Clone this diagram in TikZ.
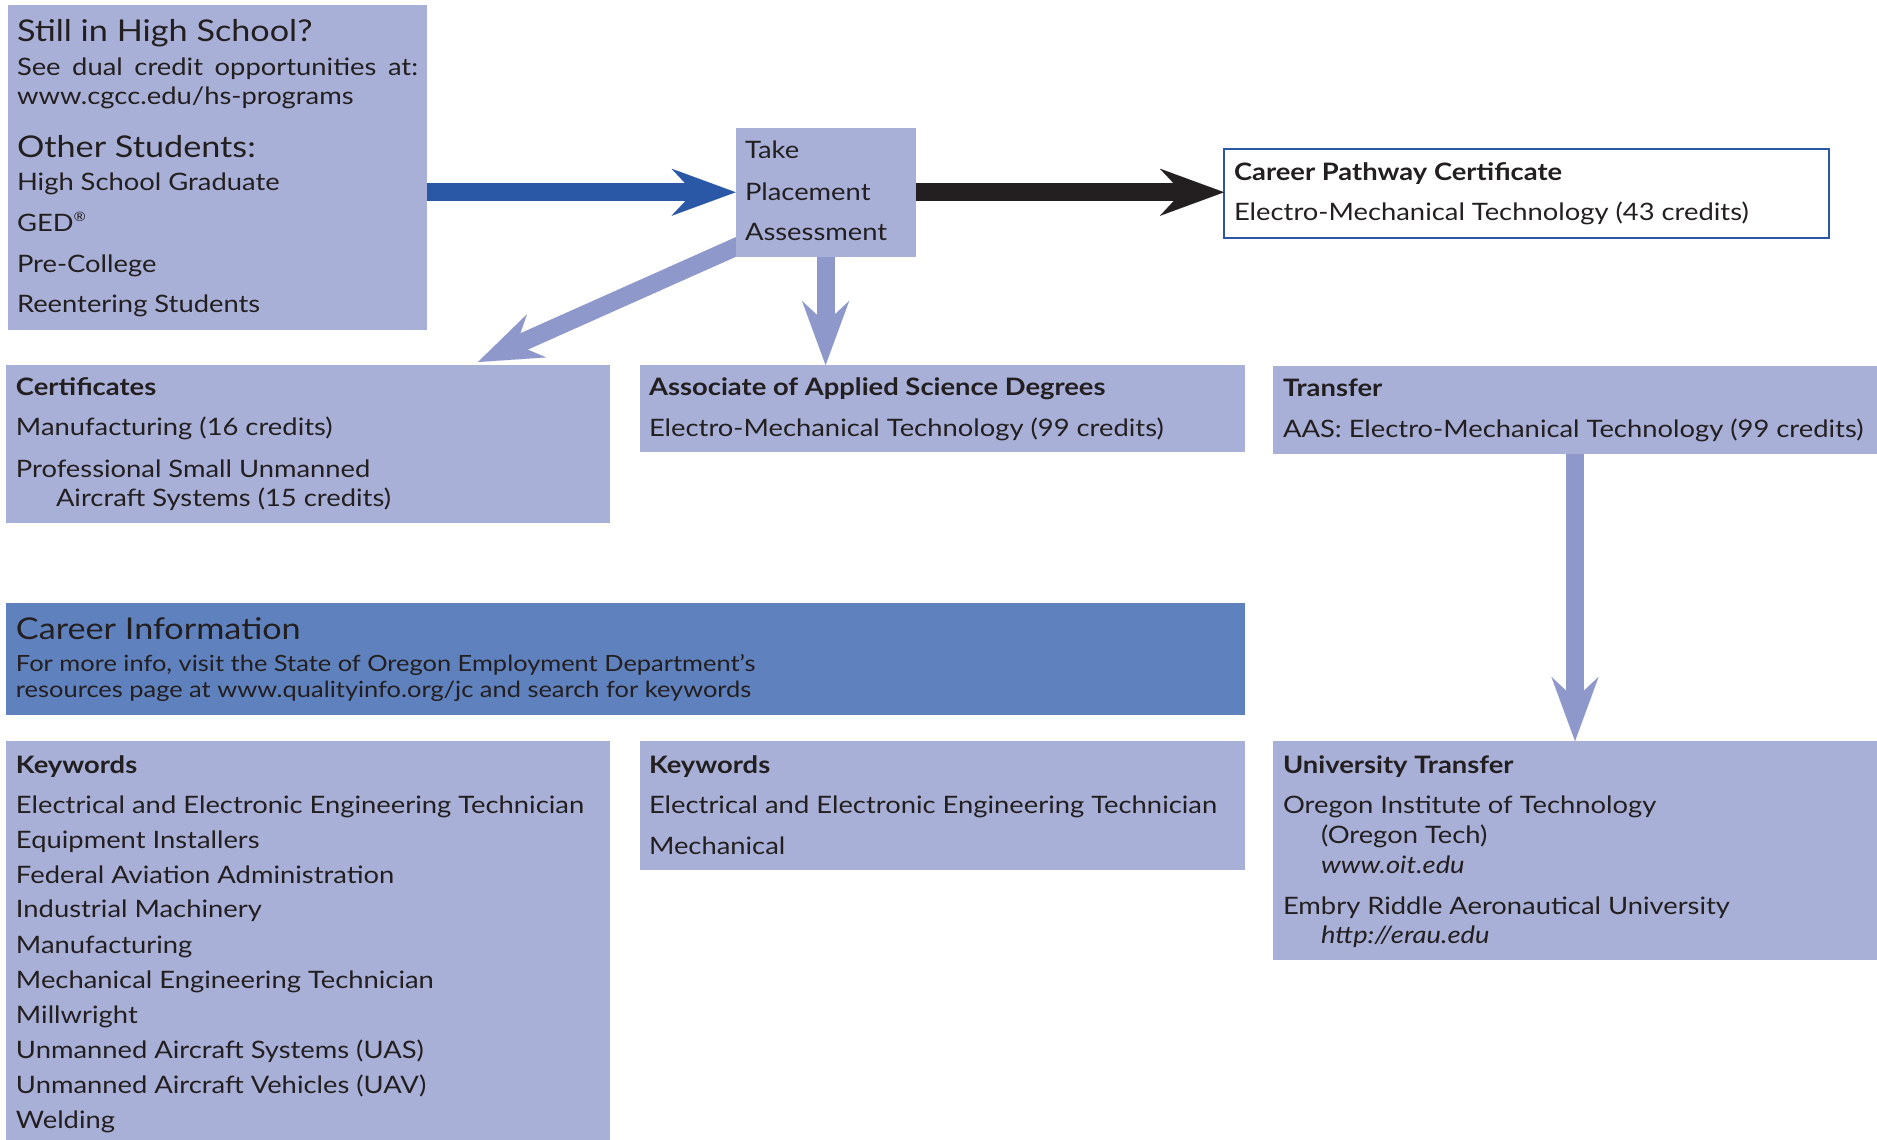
\documentclass[tikz,border=0pt]{standalone}
\usepackage{fontspec}
\setmainfont{Lato}[FakeStretch=1.14]
\usetikzlibrary{arrows.meta}
\definecolor{boxc}{HTML}{A9B0D8}
\definecolor{arrc}{HTML}{8E98CB}
\definecolor{bluea}{HTML}{2A58A6}
\definecolor{infoc}{HTML}{5F81BD}
\definecolor{txt}{HTML}{231F20}
\definecolor{blk}{HTML}{231F20}
\begin{document}
\begin{tikzpicture}[x=1pt,y=-1pt,
 box/.style={fill=boxc, inner sep=0pt, outer sep=0pt, anchor=north west},
 tx/.style={anchor=base west, inner sep=0pt, outer sep=0pt, text=txt, font=\fontsize{24}{28}\selectfont},
 hd/.style={tx, font=\fontsize{30}{34}\selectfont},
 bd/.style={tx, font=\fontsize{24}{28}\selectfont\bfseries},
 itx/.style={tx, font=\fontsize{24}{28}\selectfont\itshape},
 sm/.style={tx, font=\fontsize{22.3}{26}\selectfont},
 conn/.style={line width=18pt, -{Stealth[length=64pt,width=47pt,inset=22pt,line width=0.01pt]}},
]
\fill[white] (0,0) rectangle (1877,1140);
\useasboundingbox (0,0) rectangle (1877,1140);

% boxes
\node[box, minimum width=419pt, minimum height=325pt] (b1) at (8,5) {};
\node[box, minimum width=604pt, minimum height=158pt] (cert) at (6,365) {};
\node[box, minimum width=605pt, minimum height=87pt] (aas) at (640,365) {};
\node[box, minimum width=604pt, minimum height=87.5pt] (trans) at (1273,366) {};
\node[box, fill=infoc, minimum width=1239pt, minimum height=111.5pt] (info) at (6,603) {};
\node[box, minimum width=604pt, minimum height=400pt] (kw1) at (6,741) {};
\node[box, minimum width=605pt, minimum height=128.5pt] (kw2) at (640,741) {};
\node[box, minimum width=604pt, minimum height=218.5pt] (ut) at (1273,741) {};
\node[box, fill=white, draw=bluea, line width=2pt, minimum width=605pt, minimum height=89pt] (cpc) at (1224,149) {};
\coordinate (takenw) at (735.6,128);

% connectors (drawn before the placement box so it covers their start)
\coordinate (dtip) at (478,362);
\path (takenw) ++(0,128.5) coordinate (takesw);
\draw[conn, draw=arrc, fill=arrc] ([shift={(16,-16.6)}]takesw) -- (dtip);
\node[box, minimum width=180pt, minimum height=128.5pt] (take) at (takenw) {};
\draw[conn, draw=bluea, fill=bluea] (b1.east |- take.west) -- (take.west);
\draw[conn, draw=blk, fill=blk] (take.east) -- (take.east -| cpc.west);
\draw[conn, draw=arrc, fill=arrc] (take.south) -- (take.south |- aas.north);
\draw[conn, draw=arrc, fill=arrc] (trans.south) -- (trans.south |- ut.north);

% texts box 1
\node[hd] (t1) at (17,42) {Still in High School?};
\node[tx] (t2) at (17,75) {\makebox[401pt][s]{See dual credit opportunities at:}};
\node[tx] (t3) at (17,104) {www.cgcc.edu/hs-programs};
\node[hd] (t4) at (17,157) {Other Students:};
\node[tx] (t5) at (17,190) {High School Graduate};
\node[tx] (t6) at (17,231) {GED\textsuperscript{\fontsize{13}{14}\selectfont ®}};
\node[tx] (t7) at (17,272) {Pre-College};
\node[tx] (t8) at (17,312) {Reentering Students};
% take
\node[tx] (p1) at (745,158.5) {Take};
\node[tx] (p2) at (745,200) {Placement};
\node[tx] (p3) at (745,240.5) {Assessment};
% cpc
\node[bd] (c1) at (1234,180.5) {Career Pathway Certificate};
\node[tx] (c2) at (1234,220.5) {Electro-Mechanical Technology (43 credits)};
% certificates
\node[bd] (e1) at (16,395.5) {Certificates};
\node[tx] (e2) at (16,435.5) {Manufacturing (16 credits)};
\node[tx] (e3) at (16,477.5) {Professional Small Unmanned};
\node[tx] (e4) at (56,506.5) {Aircraft Systems (15 credits)};
% aas
\node[bd] (a1) at (649,395.5) {Associate of Applied Science Degrees};
\node[tx] (a2) at (649,436.5) {Electro-Mechanical Technology (99 credits)};
% transfer
\node[bd] (r1) at (1283,396.5) {Transfer};
\node[tx] (r2) at (1283,437) {AAS: Electro-Mechanical Technology (99 credits)};
% info
\node[hd] (i1) at (16,639) {Career Information};
\node[sm] (i2) at (16,671) {For more info, visit the State of Oregon Employment Department’s};
\node[sm] (i3) at (16,697) {resources page at www.qualityinfo.org/jc and search for keywords};
% keywords 1
\node[bd] (k0) at (16,773) {Keywords};
\node[tx] (k1) at (16,813) {Electrical and Electronic Engineering Technician};
\node[tx] (k2) at (16,848) {Equipment Installers};
\node[tx] (k3) at (16,883) {Federal Aviation Administration};
\node[tx] (k4) at (16,917.5) {Industrial Machinery};
\node[tx] (k5) at (16,953) {Manufacturing};
\node[tx] (k6) at (16,988) {Mechanical Engineering Technician};
\node[tx] (k7) at (16,1023) {Millwright};
\node[tx] (k8) at (16,1058) {Unmanned Aircraft Systems (UAS)};
\node[tx] (k9) at (16,1093) {Unmanned Aircraft Vehicles (UAV)};
\node[tx] (k10) at (16,1128) {Welding};
% keywords 2
\node[bd] (m0) at (649,773) {Keywords};
\node[tx] (m1) at (649,813) {Electrical and Electronic Engineering Technician};
\node[tx] (m2) at (649,854) {Mechanical};
% university transfer
\node[bd] (u0) at (1283,773) {University Transfer};
\node[tx] (u1) at (1283,813) {Oregon Institute of Technology};
\node[tx] (u2) at (1321,843) {(Oregon Tech)};
\node[itx] (u3) at (1321,873) {www.oit.edu};
\node[tx] (u4) at (1283,914) {Embry Riddle Aeronautical University};
\node[itx] (u5) at (1321,943.5) {http://erau.edu};
\end{tikzpicture}
\end{document}
